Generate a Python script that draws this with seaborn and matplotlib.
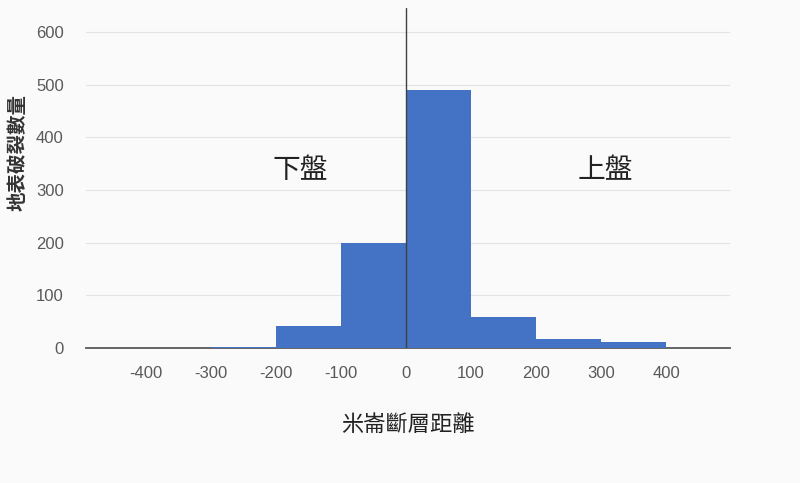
import matplotlib
matplotlib.use("Agg")
import matplotlib.pyplot as plt
import seaborn as sns
import numpy as np
import pandas as pd

# data
bin_edges = [-500, -400, -300, -200, -100, 0, 100, 200, 300, 400, 500]
bin_centers = [-450, -350, -250, -150, -50, 50, 150, 250, 350, 450]
counts = [0, 0, 2, 42, 200, 490, 58, 17, 12, 0]
x_ticks = [-400, -300, -200, -100, 0, 100, 200, 300, 400]
x_tick_labels = ["-400", "-300", "-200", "-100", "0", "100", "200", "300", "400"]
y_ticks = [0, 100, 200, 300, 400, 500, 600]
annotations = [("下盤", -163, 338), ("上盤", 306, 338)]
x_label = "米崙斷層距離"
y_label = "地表破裂數量"

sns.set_theme(style="white")
plt.rcParams['font.family'] = ['Noto Sans CJK TC', 'DejaVu Sans']
plt.rcParams['axes.unicode_minus'] = False

bg = "#FAFAFA"
fig = plt.figure(figsize=(8, 4.83), dpi=100, facecolor=bg)
ax = fig.add_axes([86/800, 1-348/483, (730-86)/800, (348-8)/483])
ax.set_facecolor(bg)

df = pd.DataFrame({"dist": bin_centers, "n": counts})
sns.histplot(data=df, x="dist", weights="n", bins=bin_edges, ax=ax,
             color="#4472C4", alpha=1, linewidth=0, edgecolor="none", zorder=2)

ax.set_xlim(-492, 498)
ax.set_ylim(0, 646)

for y in y_ticks[1:]:
    ax.axhline(y, color="#E3E3E3", lw=0.8, zorder=0)
ax.axvline(0, color="#404040", lw=1, zorder=3)

for s in ["top", "right", "left"]:
    ax.spines[s].set_visible(False)
ax.spines["bottom"].set_color("#595959")
ax.spines["bottom"].set_linewidth(1.3)
ax.spines["bottom"].set_zorder(1)

ax.set_xticks(x_ticks)
ax.set_xticklabels(x_tick_labels, fontfamily="Liberation Sans", fontsize=12, color="#595959")
ax.set_yticks(y_ticks)
ax.set_yticklabels([str(v) for v in y_ticks], fontfamily="Liberation Sans", fontsize=12, color="#595959")
ax.tick_params(axis="x", length=0, pad=13)
ax.tick_params(axis="y", length=0, pad=16)

ax.set_xlabel(x_label, fontsize=16, color="#222222")
ax.xaxis.set_label_coords(0.5, -0.226)
ax.xaxis.label.set_va("center")
ax.set_ylabel(y_label, fontsize=14, fontweight="bold", color="#333333")
ax.yaxis.set_label_coords(-0.106, 0.574)
ax.yaxis.label.set_va("center")

for txt, x, y in annotations:
    ax.text(x, y, txt, fontsize=20, color="#222222", ha="center", va="center")

fig.savefig("out.png", dpi=100, facecolor=bg)
